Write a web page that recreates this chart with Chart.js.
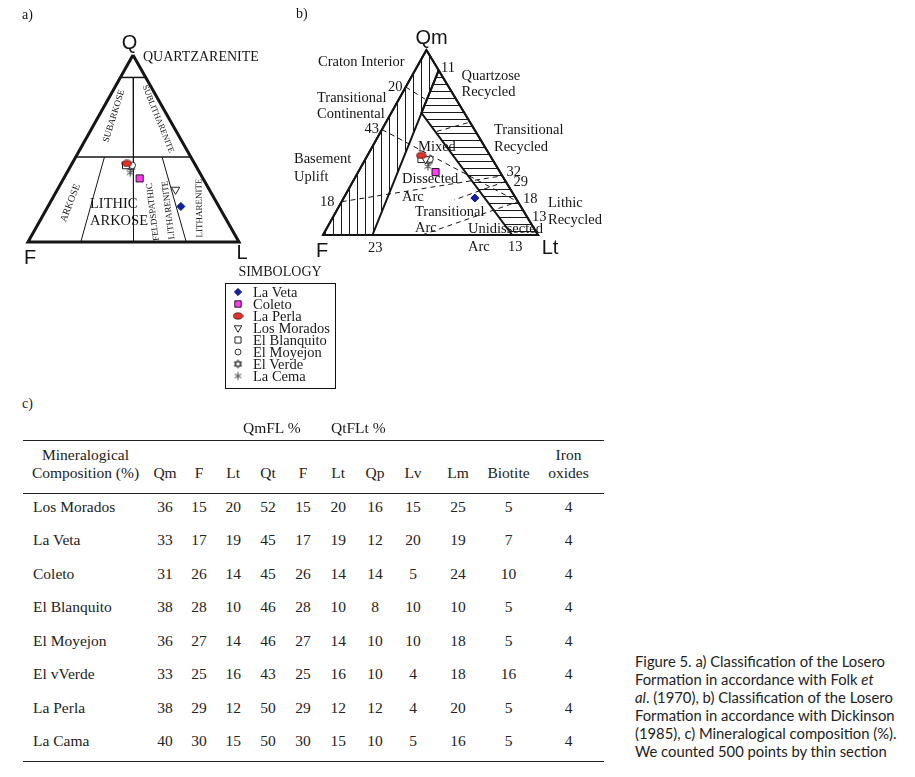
<!DOCTYPE html>
<html lang="en">
<head>
<meta charset="UTF-8" />
<title>Losero Formation - Figure 5</title>
<style>
  body { margin: 0; background: #fff; }
  #page { position: relative; width: 915px; height: 777px; overflow: hidden; color: #1a1a1a; }
  canvas.tri { position: absolute; top: 0; }
  .txt { position: absolute; font-family: "Liberation Serif", "Times New Roman", serif; white-space: nowrap; }
  #simbTitle { left: 224px; top: 263px; width: 112px; text-align: center; font-size: 14px; line-height: 17px; }
  #legend { position: absolute; left: 225px; top: 283px; width: 109px; height: 104px; border: 1px solid #111; }
  #legend .item { position: absolute; left: 0; height: 12px; width: 109px; }
  #legend canvas { position: absolute; left: 6px; top: 0; }
  #legend span { position: absolute; left: 27px; top: 0; font: 14.5px/12px "Liberation Serif", serif; }
  #tbl { position: absolute; left: 23px; top: 440px; width: 581px; border-collapse: collapse; table-layout: fixed;
         font: 15.5px "Liberation Serif", "Times New Roman", serif; color: #222; }
  #tbl th { font-weight: normal; border-top: 1.5px solid #222; border-bottom: 1.5px solid #222;
            padding: 5px 0 12px; line-height: 17.5px; vertical-align: bottom; text-align: center; }
  #tbl tbody tr { height: 33.5px; }
  #tbl td { padding: 3px 0 0; line-height: 19px; vertical-align: top; text-align: center; }
  #tbl tbody tr:last-child td { border-bottom: 1.5px solid #222; }
  #tbl td.name { text-align: left; padding-left: 10px; }
  #caption { position: absolute; left: 635px; top: 652px; font: 14.8px/18px Lato, "Open Sans", sans-serif; color: #222; white-space: nowrap; }
</style>
</head>
<body>
<div id="page">
  <canvas id="folk" class="tri" width="285" height="270" style="left:0"></canvas>
  <canvas id="dick" class="tri" width="330" height="270" style="left:285px"></canvas>

  <div id="simbTitle" class="txt">SIMBOLOGY</div>
  <div id="legend"></div>

  <div class="txt" style="left:22px;top:395px;font-size:14px;line-height:17px">c)</div>
  <div class="txt" style="left:243px;top:419px;font-size:15.5px;line-height:18px">QmFL %</div>
  <div class="txt" style="left:331px;top:419px;font-size:15.5px;line-height:18px">QtFLt %</div>

  <table id="tbl">
    <colgroup>
      <col style="width:125px"><col style="width:34px"><col style="width:34px"><col style="width:34.5px">
      <col style="width:35px"><col style="width:35px"><col style="width:35.5px"><col style="width:38px">
      <col style="width:38px"><col style="width:52px"><col style="width:49px"><col style="width:71px">
    </colgroup>
    <thead>
      <tr>
        <th>Mineralogical<br>Composition (%)</th>
        <th>Qm</th><th>F</th><th>Lt</th><th>Qt</th><th>F</th><th>Lt</th>
        <th>Qp</th><th>Lv</th><th>Lm</th><th>Biotite</th><th>Iron<br>oxides</th>
      </tr>
    </thead>
    <tbody></tbody>
  </table>

  <div id="caption">
    Figure 5. a) Classification of the Losero<br>
    Formation in accordance with Folk <i>et</i><br>
    <i>al</i>. (1970), b) Classification of the Losero<br>
    Formation in accordance with Dickinson<br>
    (1985), c) Mineralogical composition (%).<br>
    We counted 500 points by thin section
  </div>
</div>

<script src="https://cdn.jsdelivr.net/npm/chart.js"></script>
<script>
  // ---- data ----
  const samples = ["La Veta", "Coleto", "La Perla", "Los Morados", "El Blanquito", "El Moyejon", "El Verde", "La Cema"];

  // plotted positions in diagram a) (Q, F, L)
  const folkQ = [19, 34, 42, 28, 41, 41, 40, 37];
  const folkF = [18, 30, 32, 16, 33, 30, 31, 33];
  const folkL = [63, 36, 26, 56, 26, 29, 29, 30];

  // plotted positions in diagram b) (Qm, F, Lt)
  const dickQm = [20, 34, 43, 41, 41, 41, 40, 37];
  const dickF  = [19, 30, 32, 31, 33, 29, 30, 32];
  const dickLt = [61, 36, 25, 28, 26, 30, 30, 31];

  // field boundaries, as ternary points
  const folkOutline = [[100, 0, 0], [0, 100, 0], [0, 0, 100], [100, 0, 0]];
  const folkTop     = [[88, 12, 0], [88, 0, 12]];
  const folkMid     = [[45.5, 54.5, 0], [45.5, 0, 54.5]];
  const folkCenter  = [[88, 6, 6], [0, 50, 50]];
  const folkLeft    = [[45.5, 40.9, 13.6], [0, 75, 25]];
  const folkRight   = [[45.5, 13.6, 40.9], [0, 25, 75]];

  const dickOutline  = [[100, 0, 0], [0, 100, 0], [0, 0, 100], [100, 0, 0]];
  const dickCraton   = [[0, 100, 0], [100, 0, 0], [89, 0, 11], [0, 77, 23], [0, 100, 0]];
  const dickRecycled = [[89, 0, 11], [66, 20, 14], [0, 12, 88], [0, 0, 100], [89, 0, 11]];
  const dickDashed = [
    [[80, 20, 0], [73, 14, 13]],
    [[57, 43, 0], [18, 0, 82]],
    [[18, 82, 0], [32, 0, 68]],
    [[29, 0, 71], [19, 29, 52]],
    [[0, 54, 46], [18, 0, 82]],
    [[56, 18, 26], [61, 0, 39]]
  ];

  // table c)
  const formations = ["Los Morados", "La Veta", "Coleto", "El Blanquito", "El Moyejon", "El vVerde", "La Perla", "La Cama"];
  const qm      = [36, 33, 31, 38, 36, 33, 38, 40];
  const fQmFL   = [15, 17, 26, 28, 27, 25, 29, 30];
  const ltQmFL  = [20, 19, 14, 10, 14, 16, 12, 15];
  const qt      = [52, 45, 45, 46, 46, 43, 50, 50];
  const fQtFLt  = [15, 17, 26, 28, 27, 25, 29, 30];
  const ltQtFLt = [20, 19, 14, 10, 14, 16, 12, 15];
  const qp      = [16, 12, 14, 8, 10, 10, 12, 10];
  const lv      = [15, 20, 5, 10, 10, 4, 4, 5];
  const lm      = [25, 19, 24, 10, 18, 18, 20, 16];
  const biotite = [5, 7, 10, 5, 5, 16, 5, 5];
  const ironOx  = [4, 4, 4, 4, 4, 4, 4, 4];

  // ---- helpers ----
  const SERIF = '"Liberation Serif", "Times New Roman", serif';
  const SANS = '"Liberation Sans", Arial, sans-serif';
  const INK = "#151515";

  // ternary -> x/y in a frame where F=(0,0), right corner=(1,0), apex=(apexX,1)
  function tern(p, apexX) {
    const s = p[0] + p[1] + p[2];
    const q = p[0] / s, l = p[2] / s;
    return { x: l + q * apexX, y: q };
  }

  function mkCanvas(w, h, draw) {
    const c = document.createElement("canvas");
    c.width = w; c.height = h;
    draw(c.getContext("2d"));
    return c;
  }

  const ellipseMark = mkCanvas(11, 8, g => {
    g.beginPath();
    g.ellipse(5.5, 4, 4.6, 3.1, 0, 0, Math.PI * 2);
    g.fillStyle = "#e2342b"; g.fill();
    g.lineWidth = 1; g.strokeStyle = "#5a1410"; g.stroke();
  });
  const hexMark = mkCanvas(11, 11, g => {
    g.strokeStyle = "#333"; g.lineWidth = 1;
    [-90, 90].forEach(a0 => {
      g.beginPath();
      for (let k = 0; k < 3; k++) {
        const a = (a0 + k * 120) * Math.PI / 180;
        const x = 5.5 + 4.2 * Math.cos(a), y = 5.5 + 4.2 * Math.sin(a);
        k ? g.lineTo(x, y) : g.moveTo(x, y);
      }
      g.closePath(); g.stroke();
    });
  });
  const asteriskMark = mkCanvas(11, 11, g => {
    g.strokeStyle = "#444"; g.lineWidth = 1;
    [90, 30, 150].forEach(d => {
      const a = d * Math.PI / 180;
      g.beginPath();
      g.moveTo(5.5 - 4 * Math.cos(a), 5.5 - 4 * Math.sin(a));
      g.lineTo(5.5 + 4 * Math.cos(a), 5.5 + 4 * Math.sin(a));
      g.stroke();
    });
  });

  // marker styles, same order as samples
  const marks = [
    { pointStyle: "rectRot", pointRadius: 4, pointBackgroundColor: "#1020a8", pointBorderColor: "#0a1470", pointBorderWidth: 1 },
    { pointStyle: "rect", pointRadius: 5, pointBackgroundColor: "#ff3cf5", pointBorderColor: "#2a102a", pointBorderWidth: 1 },
    { pointStyle: ellipseMark, pointRadius: 5 },
    { pointStyle: "triangle", pointRotation: 180, pointRadius: 4.8, pointBackgroundColor: "#fff", pointBorderColor: "#222", pointBorderWidth: 1 },
    { pointStyle: "rect", pointRadius: 4.8, pointBackgroundColor: "#fff", pointBorderColor: "#222", pointBorderWidth: 1 },
    { pointStyle: "circle", pointRadius: 3.3, pointBackgroundColor: "#fff", pointBorderColor: "#333", pointBorderWidth: 1 },
    { pointStyle: hexMark, pointRadius: 5 },
    { pointStyle: asteriskMark, pointRadius: 5 }
  ];

  function lineSet(pts, apexX, width, dash, extra) {
    return Object.assign({
      data: pts.map(p => tern(p, apexX)),
      showLine: true, borderColor: INK, borderWidth: width, borderDash: dash || [],
      pointRadius: 0, fill: false, tension: 0, clip: false, order: 10
    }, extra || {});
  }

  function sampleSets(a, b, c, apexX) {
    return samples.map((name, i) => Object.assign({
      label: name,
      data: [tern([a[i], b[i], c[i]], apexX)],
      showLine: false, clip: false, order: 1
    }, marks[i]));
  }

  function hatch(canvasId, vertical, gap) {
    const tile = mkCanvas(vertical ? gap : 1, vertical ? 1 : gap, g => {
      g.fillStyle = "#1a1a1a"; g.fillRect(0, 0, 1, 1);
    });
    return document.getElementById(canvasId).getContext("2d").createPattern(tile, "repeat");
  }

  const textPlugin = {
    id: "texts",
    afterDatasetsDraw(chart, args, opts) {
      const ctx = chart.ctx;
      ctx.save();
      ctx.fillStyle = INK;
      ctx.textBaseline = "middle";
      opts.items.forEach(([text, x, y, size, fam, align, rot]) => {
        ctx.save();
        ctx.font = size + "px " + (fam === "a" ? SANS : SERIF);
        ctx.textAlign = align || "left";
        ctx.translate(x - opts.offsetX, y);
        if (rot) ctx.rotate(rot * Math.PI / 180);
        ctx.fillText(text, 0, 0);
        ctx.restore();
      });
      ctx.restore();
    }
  };

  function triChart(id, datasets, padding, labels, offsetX) {
    return new Chart(document.getElementById(id), {
      type: "scatter",
      data: { datasets },
      options: {
        responsive: false, maintainAspectRatio: false, animation: false,
        devicePixelRatio: 1, events: [],
        layout: { padding },
        scales: {
          x: { type: "linear", min: 0, max: 1, display: false },
          y: { type: "linear", min: 0, max: 1, display: false }
        },
        plugins: {
          legend: { display: false },
          tooltip: { enabled: false },
          texts: { items: labels, offsetX }
        }
      },
      plugins: [textPlugin]
    });
  }

  // ---- a) Folk ----
  const folkApex = 0.4976;
  const folkLabels = [
    ["a)", 22, 15, 14, "s"],
    ["Q", 129.5, 43, 20, "a", "center"],
    ["QUARTZARENITE", 143, 57.5, 14, "s"],
    ["F", 30, 258, 20, "a", "center"],
    ["L", 242, 253, 20, "a", "center"],
    ["SUBARKOSE", 114, 116, 9.2, "s", "center", -73],
    ["SUBLITHARENITE", 158, 119, 8.5, "s", "center", 68],
    ["ARKOSE", 70.5, 203, 10, "s", "center", -69],
    ["LITHIC", 90, 204.5, 14.5, "s"],
    ["ARKOSE", 90, 221.5, 14.5, "s"],
    ["FELDSPATHIC", 153, 212, 9, "s", "center", -97],
    ["LITHARENITE", 168.5, 210, 9, "s", "center", -97],
    ["LITHARENITE", 199.5, 208, 9, "s", "center", -91]
  ];
  triChart("folk", [
    ...sampleSets(folkQ, folkF, folkL, folkApex),
    lineSet(folkOutline, folkApex, 3),
    lineSet(folkTop, folkApex, 1.5),
    lineSet(folkMid, folkApex, 1.5),
    lineSet(folkCenter, folkApex, 1),
    lineSet(folkLeft, folkApex, 1),
    lineSet(folkRight, folkApex, 1)
  ], { left: 28, top: 55, right: 46, bottom: 28 }, folkLabels, 0);

  // ---- b) Dickinson ----
  const dickApex = 0.481;
  const dickLabels = [
    ["b)", 296, 14, 14, "s"],
    ["Qm", 431.5, 38, 20, "a", "center"],
    ["Craton Interior", 318, 62.5, 14.5, "s"],
    ["11", 441, 68.5, 14.5, "s"],
    ["Quartzose", 461.5, 76, 14.5, "s"],
    ["Recycled", 461.5, 92, 14.5, "s"],
    ["20", 388, 87, 14.5, "s"],
    ["Transitional", 317, 98, 14.5, "s"],
    ["Continental", 317, 114.5, 14.5, "s"],
    ["43", 364.5, 129.5, 14.5, "s"],
    ["Transitional", 494, 130, 14.5, "s"],
    ["Recycled", 494, 147, 14.5, "s"],
    ["Mixed", 418, 147.5, 14.5, "s"],
    ["Basement", 294, 159.5, 14.5, "s"],
    ["Uplift", 294, 177, 14.5, "s"],
    ["Dissected", 402, 179, 14.5, "s"],
    ["Arc", 402, 197, 14.5, "s"],
    ["32", 506.5, 172, 14.5, "s"],
    ["29", 513.5, 182, 14.5, "s"],
    ["18", 320, 202.5, 14.5, "s"],
    ["18", 523, 199.5, 14.5, "s"],
    ["Lithic", 548, 203.5, 14.5, "s"],
    ["Recycled", 548, 220, 14.5, "s"],
    ["Transitional", 415, 212, 14.5, "s"],
    ["Arc", 415, 228.5, 14.5, "s"],
    ["13", 532, 217, 14.5, "s"],
    ["Unidissected", 468, 229.5, 14.5, "s"],
    ["Arc", 468, 247, 14.5, "s"],
    ["13", 508, 247, 14.5, "s"],
    ["23", 368, 248.5, 14.5, "s"],
    ["F", 322, 251.5, 20, "a", "center"],
    ["Lt", 550, 248, 20, "a", "center"]
  ];
  triChart("dick", [
    ...sampleSets(dickQm, dickF, dickLt, dickApex),
    lineSet(dickCraton, dickApex, 2, null, { fill: "shape", backgroundColor: hatch("dick", true, 8) }),
    lineSet(dickRecycled, dickApex, 2, null, { fill: "shape", backgroundColor: hatch("dick", false, 7) }),
    lineSet(dickOutline, dickApex, 2),
    ...dickDashed.map(seg => lineSet(seg, dickApex, 1, [5, 4]))
  ], { left: 38, top: 50, right: 77, bottom: 35 }, dickLabels, 285);

  // ---- legend (SIMBOLOGY) ----
  const legend = document.getElementById("legend");
  samples.forEach((name, i) => {
    const item = document.createElement("div");
    item.className = "item";
    item.style.top = (1.5 + i * 12) + "px";
    const c = document.createElement("canvas");
    c.width = 12; c.height = 12;
    const g = c.getContext("2d");
    const m = marks[i];
    if (m.pointStyle instanceof HTMLCanvasElement) {
      g.drawImage(m.pointStyle, (12 - m.pointStyle.width) / 2, (12 - m.pointStyle.height) / 2);
    } else if (Chart.helpers && Chart.helpers.drawPoint) {
      g.fillStyle = m.pointBackgroundColor;
      g.strokeStyle = m.pointBorderColor;
      g.lineWidth = m.pointBorderWidth;
      Chart.helpers.drawPoint(g, { pointStyle: m.pointStyle, rotation: m.pointRotation || 0,
        radius: m.pointRadius * 0.9, borderWidth: m.pointBorderWidth }, 6, 6);
    }
    const s = document.createElement("span");
    s.textContent = name;
    item.appendChild(c);
    item.appendChild(s);
    legend.appendChild(item);
  });

  // ---- table c) ----
  const tbody = document.querySelector("#tbl tbody");
  formations.forEach((name, i) => {
    const tr = document.createElement("tr");
    const vals = [qm[i], fQmFL[i], ltQmFL[i], qt[i], fQtFLt[i], ltQtFLt[i], qp[i], lv[i], lm[i], biotite[i], ironOx[i]];
    tr.innerHTML = `<td class="name">${name}</td>` + vals.map(v => `<td>${v}</td>`).join("");
    tbody.appendChild(tr);
  });
</script>
</body>
</html>
